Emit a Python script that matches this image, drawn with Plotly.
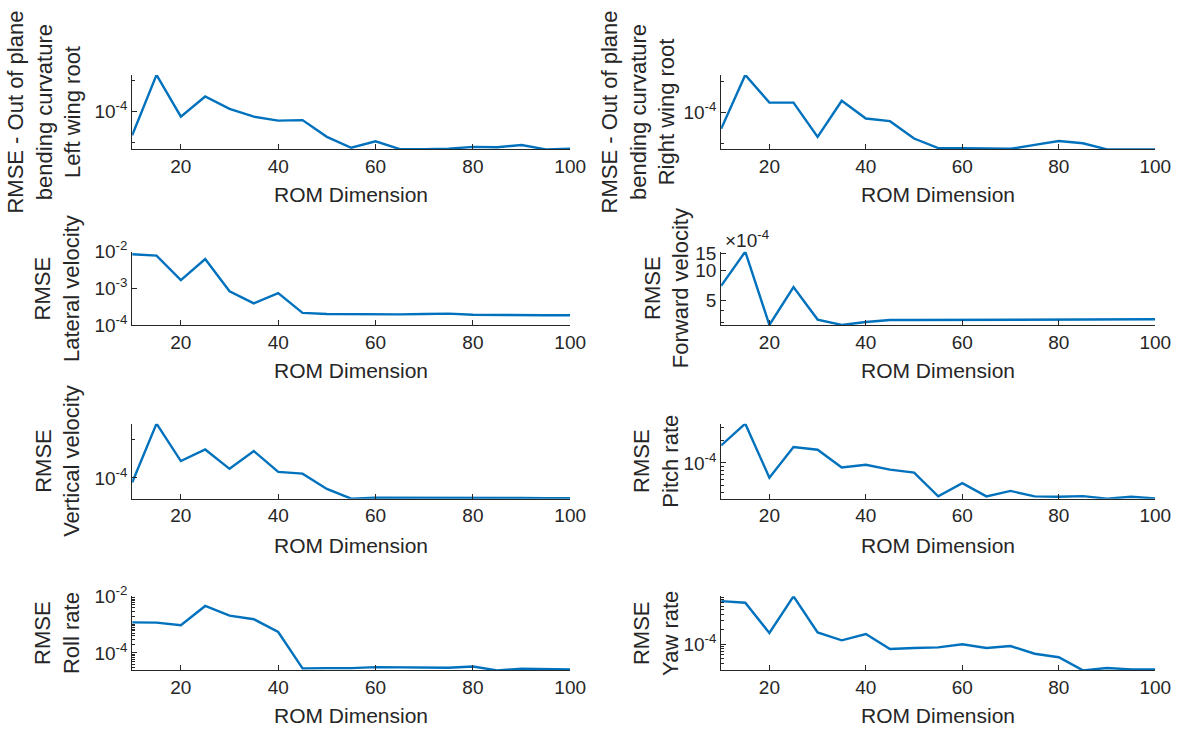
import numpy as np
import plotly.graph_objects as go

rom_dim = [10, 15, 20, 25, 30, 35, 40, 45, 50, 55, 60, 65, 70, 75, 80, 85, 90, 95, 100]

left_wing = [5.9e-5, 2.29e-4, 8.97e-5, 1.41e-4, 1.07e-4, 8.97e-5, 8.2e-5, 8.3e-5, 5.7e-5, 4.46e-5,
             5.15e-5, 4.33e-5, 4.33e-5, 4.36e-5, 4.55e-5, 4.52e-5, 4.75e-5, 4.3e-5, 4.36e-5]
right_wing = [6.87e-5, 2.31e-4, 1.24e-4, 1.24e-4, 5.74e-5, 1.29e-4, 8.66e-5, 8.17e-5, 5.53e-5, 4.46e-5,
              4.46e-5, 4.43e-5, 4.39e-5, 4.79e-5, 5.22e-5, 4.97e-5, 4.33e-5, 4.33e-5, 4.33e-5]
lateral_vel = [8.5e-3, 7.8e-3, 1.68e-3, 6.3e-3, 8.3e-4, 3.9e-4, 7.4e-4, 2.14e-4, 2.0e-4, 1.97e-4,
               1.91e-4, 1.95e-4, 2.0e-4, 2.04e-4, 1.91e-4, 1.87e-4, 1.87e-4, 1.84e-4, 1.84e-4]
forward_vel = [7.05e-4, 1.55e-3, 2.85e-4, 6.84e-4, 3.23e-4, 2.85e-4, 3.05e-4, 3.2e-4, 3.2e-4, 3.2e-4,
               3.2e-4, 3.23e-4, 3.2e-4, 3.2e-4, 3.2e-4, 3.2e-4, 3.25e-4, 3.25e-4, 3.25e-4]
vertical_vel = [9.19e-5, 2.69e-4, 1.36e-4, 1.68e-4, 1.18e-4, 1.63e-4, 1.115e-4, 1.08e-4, 8.18e-5, 6.85e-5,
                6.98e-5, 6.98e-5, 6.94e-5, 6.94e-5, 6.94e-5, 7.02e-5, 6.94e-5, 6.9e-5, 6.9e-5]
pitch_rate = [1.71e-4, 3.35e-4, 6.33e-5, 1.63e-4, 1.50e-4, 8.69e-5, 9.41e-5, 8.11e-5, 7.41e-5, 3.56e-5,
              5.34e-5, 3.56e-5, 4.21e-5, 3.56e-5, 3.52e-5, 3.59e-5, 3.32e-5, 3.52e-5, 3.35e-5]
roll_rate = [1.2e-3, 1.18e-3, 9.5e-4, 4.57e-3, 2.08e-3, 1.55e-3, 5.5e-4, 2.85e-5, 2.92e-5, 2.92e-5,
             3.16e-5, 3.08e-5, 2.92e-5, 3.0e-5, 3.33e-5, 2.43e-5, 2.77e-5, 2.63e-5, 2.63e-5]
yaw_rate = [7.58e-4, 7.03e-4, 1.69e-4, 9.5e-4, 1.74e-4, 1.195e-4, 1.61e-4, 7.97e-5, 8.34e-5, 8.59e-5,
            9.97e-5, 8.34e-5, 9.12e-5, 6.36e-5, 5.40e-5, 2.91e-5, 3.24e-5, 3.05e-5, 3.05e-5]

x_ticks = [20, 40, 60, 80, 100]

titles = [
    ["RMSE - Out of plane", "bending curvature", "Left wing root"],
    ["RMSE - Out of plane", "bending curvature", "Right wing root"],
    ["RMSE", "Lateral velocity"],
    ["RMSE", "Forward velocity"],
    ["RMSE", "Vertical velocity"],
    ["RMSE", "Pitch rate"],
    ["RMSE", "Roll rate"],
    ["RMSE", "Yaw rate"],
]
series = [left_wing, right_wing, lateral_vel, forward_vel, vertical_vel, pitch_rate, roll_rate, yaw_rate]

W, H = 1188, 736
FONT = "Liberation Sans, Arial, sans-serif"
TXT = "#262626"
LINE = "#0072BD"

def sup(n):
    return "10<sup>%d</sup>" % n

decade_minor = [m * 10.0 ** e for e in range(-6, -1) for m in range(2, 10)]

# per-panel y tick setup
yconf = [
    dict(vals=[1e-4], text=[sup(-4)], minor=[5e-5, 2e-4], rng=None),
    dict(vals=[1e-4], text=[sup(-4)], minor=[5e-5, 2e-4], rng=None),
    dict(vals=[1e-4, 1e-3, 1e-2], text=[sup(-4), sup(-3), sup(-2)], minor=[], rng=[-4, -2]),
    dict(vals=[5e-4, 1e-3, 1.5e-3], text=["5", "10", "15"], minor=[3e-4, 4e-4], rng=None),
    dict(vals=[1e-4], text=[sup(-4)], minor=[5e-5, 2e-4], rng=None),
    dict(vals=[1e-4], text=[sup(-4)], minor=decade_minor, rng=None),
    dict(vals=[1e-4, 1e-2], text=[sup(-4), sup(-2)], minor=decade_minor + [1e-3], rng="roll"),
    dict(vals=[1e-4], text=[sup(-4)], minor=decade_minor, rng=None),
]

# layout geometry in pixels
col_x = [(134, 578), (731, 1171)]
row_y = [(64, 141), (246.7, 322.5), (424.5, 502), (603, 679.5)]
xtitle_y = [188, 370, 550, 726]
ytitle_cx = [[45, 647], [58.5, 676], [58.5, 665.5], [58.5, 665.5]]

fig = go.Figure()
layout = dict(width=W, height=H, margin=dict(l=0, r=0, t=0, b=0),
              paper_bgcolor="white", plot_bgcolor="white", showlegend=False,
              font=dict(family=FONT, size=19, color=TXT))
annotations = []

for i, (ys, ttl, yc) in enumerate(zip(series, titles, yconf)):
    r, c = divmod(i, 2)
    k = i + 1
    xa = "xaxis" if k == 1 else "xaxis%d" % k
    ya = "yaxis" if k == 1 else "yaxis%d" % k
    x0, x1 = col_x[c]
    y0, y1 = row_y[r]
    lo = np.log10(min(ys))
    hi = np.log10(max(ys))
    if yc["rng"] == "roll":
        rng = [lo, -2]
    elif yc["rng"] is not None:
        rng = yc["rng"]
    else:
        rng = [lo, hi]
    minor_vals = [v for v in yc["minor"] if rng[0] <= np.log10(v) <= rng[1]]

    fig.add_trace(go.Scatter(x=rom_dim, y=ys, mode="lines",
                             line=dict(color=LINE, width=2.4),
                             xaxis="x" if k == 1 else "x%d" % k,
                             yaxis="y" if k == 1 else "y%d" % k,
                             cliponaxis=False))
    layout[xa] = dict(domain=[x0 / W, x1 / W], anchor="y" if k == 1 else "y%d" % k,
                      range=[10, 100], tickmode="array", tickvals=x_ticks,
                      ticks="inside", ticklen=5, tickcolor=TXT, tickwidth=1,
                      showline=True, linecolor=TXT, linewidth=1, mirror=False,
                      showgrid=False, zeroline=False,
                      tickfont=dict(size=19, color=TXT, family=FONT))
    layout[ya] = dict(domain=[1 - y1 / H, 1 - y0 / H], anchor="x" if k == 1 else "x%d" % k,
                      type="log", range=rng, tickmode="array", tickvals=yc["vals"],
                      ticktext=yc["text"], ticks="inside", ticklen=5, tickcolor=TXT,
                      tickwidth=1, showline=True, linecolor=TXT, linewidth=1,
                      mirror=False, showgrid=False, zeroline=False,
                      tickfont=dict(size=19, color=TXT, family=FONT),
                      minor=dict(tickmode="array", tickvals=minor_vals, ticks="inside",
                                 ticklen=3, tickcolor=TXT, tickwidth=1, showgrid=False))
    # x title
    annotations.append(dict(text="ROM Dimension", xref="paper", yref="paper",
                            x=(x0 + x1) / 2 / W, y=1 - xtitle_y[r] / H,
                            xanchor="center", yanchor="middle", showarrow=False,
                            font=dict(size=21, color=TXT, family=FONT)))
    # y title
    annotations.append(dict(text="<br>".join(ttl), xref="paper", yref="paper",
                            x=ytitle_cx[r][c] / W, y=1 - (y0 + y1) / 2 / H,
                            xanchor="center", yanchor="middle", textangle=-90,
                            showarrow=False, align="center",
                            font=dict(size=22, color=TXT, family=FONT)))

# exponent label for forward velocity axis
annotations.append(dict(text="\u00d710<sup>-4</sup>", xref="paper", yref="paper",
                        x=733 / W, y=1 - 234 / H, xanchor="left", yanchor="middle",
                        showarrow=False, font=dict(size=19, color=TXT, family=FONT)))

layout["annotations"] = annotations
fig.update_layout(**layout)
fig.write_html("out.html")
